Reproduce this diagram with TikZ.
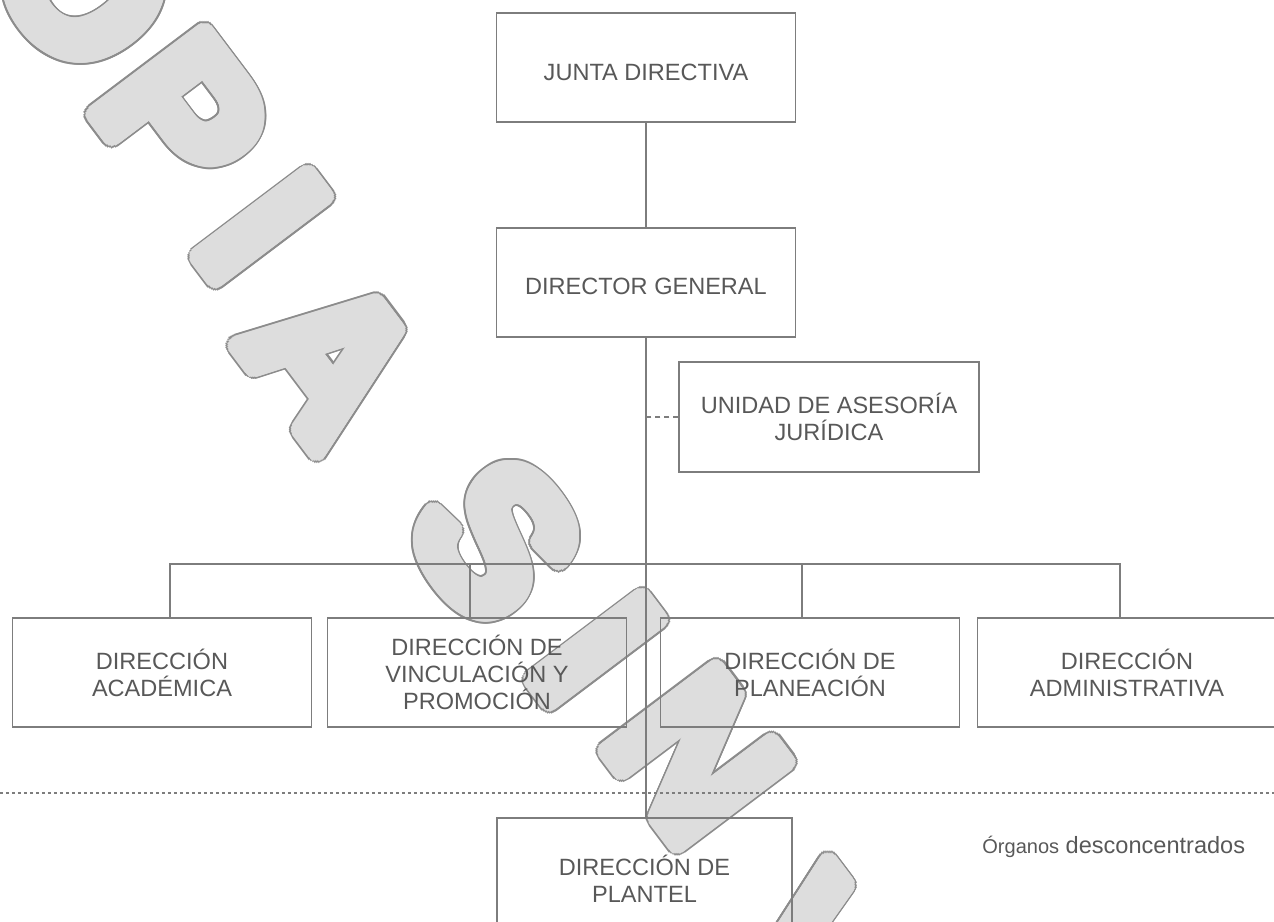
\documentclass[tikz,border=0pt]{standalone}
\usepackage{fontspec}
\setmainfont{Liberation Sans}
\usetikzlibrary{positioning, calc}
\definecolor{boxgray}{RGB}{125, 125, 125}
\definecolor{textgray}{RGB}{88, 88, 88}
\definecolor{wmfill}{RGB}{221, 221, 221}
\definecolor{wmline}{RGB}{140, 140, 140}

\begin{document}
\begin{tikzpicture}[x=0.2mm, y=-0.2mm,
  unitbox/.style={draw=boxgray, line width=0.8pt, minimum width=5.98cm, minimum height=2.18cm,
    inner sep=0pt, align=center, text=textgray, font=\fontsize{13.4}{15.4}\selectfont},
  link/.style={draw=boxgray, line width=0.8pt},
  wmglyph/.style={rotate=-53, inner sep=0pt, font=\fontsize{114}{114}\selectfont\bfseries}]
  \useasboundingbox (0,0) rectangle (1274,922);

  % ===== WATERMARK =====
  \begin{scope}
    \clip (0,0) rectangle (1274,922);
    \foreach \ch/\px/\py in {O/84/-18, P/182/116, I/262/227, A/332/358, S/497/540, I/596/650, N/697/757, V/813/955} {
      \foreach \a in {0,11.25,...,348.75}
        \node[wmglyph, text=wmline] at ($(\px,\py)+(\a:0.22cm)$) {\ch};
      \foreach \a in {0,11.25,...,348.75}
        \node[wmglyph, text=wmfill] at ($(\px,\py)+(\a:0.18cm)$) {\ch};
      \node[wmglyph, text=wmfill] at (\px,\py) {\ch};
    }
  \end{scope}

  % ===== TOP =====
  \node[unitbox] (junta) at (646,67.5) {\raisebox{-0.1cm}[\height][\depth]{JUNTA DIRECTIVA}};
  \node[unitbox] (director) at (646,282.5) {\raisebox{-0.08cm}[\height][\depth]{DIRECTOR GENERAL}};
  \draw[link] (junta) -- (director);

  % Staff unit
  \node[unitbox, minimum width=6cm, minimum height=2.2cm] (asesoria) at (829,417) {UNIDAD DE ASESOR\'IA\\JUR\'IDICA};

  % ===== DIRECTIONS =====
  \node[unitbox] (academica) at (162,672.5) {DIRECCI\'ON\\ACAD\'EMICA};
  \node[unitbox] (vinculacion) at (477,672.5) {DIRECCI\'ON DE\\VINCULACI\'ON Y\\PROMOCI\'ON};
  \node[unitbox] (planeacion) at (810,672.5) {DIRECCI\'ON DE\\PLANEACI\'ON};
  \node[unitbox] (administrativa) at (1127,672.5) {DIRECCI\'ON\\ADMINISTRATIVA};

  % Plantel
  \node[unitbox, minimum width=5.9cm, minimum height=2.44cm] (plantel) at (644.5,879) {DIRECCI\'ON DE\\PLANTEL};

  % Main line
  \draw[link] (director.south) -- (director.south |- plantel.north);
  \draw[link, dash pattern=on 0.1cm off 0.08cm] (asesoria.west) -- (asesoria.west -| director.south);

  % Bus
  \coordinate (busL) at (170,564);
  \coordinate (busV) at (470,564);
  \coordinate (busP) at (802,564);
  \coordinate (busR) at (1120,564);
  \draw[link] (busL |- academica.north) -- (busL) -- (busR) -- (busR |- administrativa.north);
  \draw[link] (busV) -- (busV |- vinculacion.north);
  \draw[link] (busP) -- (busP |- planeacion.north);

  % Separator
  \coordinate (sepL) at (0,793);
  \coordinate (sepR) at (1274,793);
  \draw[boxgray, line width=0.8pt, dash pattern=on 0.06cm off 0.06cm] (sepL) -- (sepR);

  \node[anchor=base west, inner sep=0pt, text=textgray, font=\fontsize{13.4}{15.4}\selectfont] (organos) at (982,853)
    {{\fontsize{11.4}{13}\selectfont \'Organos} desconcentrados};
\end{tikzpicture}
\end{document}
